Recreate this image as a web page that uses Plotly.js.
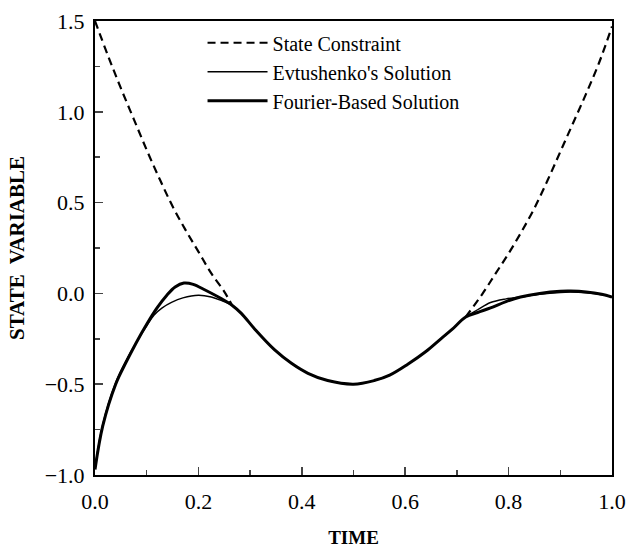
<!DOCTYPE html>
<html>
<head>
<meta charset="utf-8">
<script src="https://cdn.plot.ly/plotly-3.0.1.min.js"></script>
<style>html,body{margin:0;padding:0;background:#fff;}#chart{width:627px;height:548px;}</style>
</head>
<body>
<div id="chart"></div>
<script>
// State constraint (dashed), two branches
var timeConstraintLeft = [0, 0.025, 0.05, 0.075, 0.1, 0.125, 0.15, 0.175, 0.2, 0.225, 0.25, 0.265];
var valConstraintLeft  = [1.50, 1.31, 1.13, 0.96, 0.79, 0.63, 0.48, 0.35, 0.23, 0.11, 0.01, -0.065];
var timeConstraintRight = [0.717, 0.75, 0.775, 0.8, 0.825, 0.85, 0.875, 0.9, 0.925, 0.95, 0.975, 1.0];
var valConstraintRight  = [-0.13, 0.0, 0.11, 0.22, 0.34, 0.47, 0.62, 0.78, 0.94, 1.10, 1.27, 1.47];

// Evtushenko's solution (thin)
var timeEvt = [0, 0.015, 0.04, 0.06, 0.08, 0.1, 0.114, 0.13, 0.148, 0.17, 0.2, 0.225, 0.245, 0.265, 0.283, 0.31, 0.347, 0.38, 0.412, 0.45, 0.5, 0.54, 0.57, 0.605, 0.64, 0.669, 0.69, 0.717, 0.74, 0.765, 0.795, 0.823, 0.86, 0.9, 0.92, 0.95, 0.98, 1.0];
var valEvt  = [-0.96, -0.72, -0.49, -0.37, -0.27, -0.18, -0.12, -0.08, -0.05, -0.025, -0.01, -0.02, -0.04, -0.065, -0.11, -0.2, -0.31, -0.385, -0.44, -0.48, -0.5, -0.48, -0.45, -0.39, -0.32, -0.25, -0.2, -0.13, -0.09, -0.05, -0.03, -0.02, -0.005, 0.005, 0.007, 0.003, -0.008, -0.02];

// Fourier-based solution (thick)
var timeFourier = [0, 0.015, 0.04, 0.06, 0.08, 0.1, 0.12, 0.139, 0.155, 0.172, 0.19, 0.212, 0.245, 0.265, 0.283, 0.31, 0.347, 0.38, 0.412, 0.45, 0.5, 0.54, 0.57, 0.605, 0.64, 0.669, 0.69, 0.717, 0.74, 0.765, 0.795, 0.823, 0.86, 0.9, 0.92, 0.95, 0.98, 1.0];
var valFourier  = [-0.97, -0.73, -0.5, -0.38, -0.27, -0.17, -0.08, -0.01, 0.035, 0.057, 0.05, 0.02, -0.03, -0.065, -0.11, -0.2, -0.31, -0.385, -0.44, -0.48, -0.5, -0.48, -0.45, -0.39, -0.32, -0.25, -0.2, -0.13, -0.105, -0.08, -0.045, -0.02, 0.0, 0.012, 0.013, 0.008, -0.005, -0.02];

var seriesNames = ["State Constraint", "Evtushenko's Solution", "Fourier-Based Solution"];
var xTickVals = [0, 0.2, 0.4, 0.6, 0.8, 1.0];
var yTickVals = [-1.0, -0.5, 0.0, 0.5, 1.0, 1.5];

var serif = "Liberation Serif, Times New Roman, serif";

var traces = [
  {x: timeConstraintLeft, y: valConstraintLeft, mode: 'lines', name: seriesNames[0], legendgroup: 'c',
   line: {color: '#000', width: 2.2, dash: '8px,5px', shape: 'spline'}},
  {x: timeEvt, y: valEvt, mode: 'lines', name: seriesNames[1],
   line: {color: '#000', width: 1.4, shape: 'spline'}},
  {x: timeFourier, y: valFourier, mode: 'lines', name: seriesNames[2],
   line: {color: '#000', width: 3, shape: 'spline'}},
  {x: timeConstraintRight, y: valConstraintRight, mode: 'lines', name: seriesNames[0], legendgroup: 'c', showlegend: false,
   line: {color: '#000', width: 2.2, dash: '8px,5px', shape: 'spline'}}
];

var layout = {
  width: 627, height: 548,
  margin: {l: 95, r: 15, t: 21, b: 73},
  paper_bgcolor: '#fff', plot_bgcolor: '#fff',
  font: {family: serif, color: '#000', size: 22},
  showlegend: true,
  legend: {x: 0.208, y: 0.995, xanchor: 'left', yanchor: 'top', bgcolor: 'rgba(0,0,0,0)',
           font: {family: serif, size: 20, color: '#000'}, tracegroupgap: 0, itemwidth: 60},
  xaxis: {range: [0, 1], tickvals: xTickVals, tickformat: '.1f', ticks: 'inside', ticklen: 8, tickwidth: 1.5,
          showline: true, linewidth: 2, linecolor: '#000', mirror: true, showgrid: false, zeroline: false,
          tickfont: {family: serif, size: 22}, ticklabelstandoff: 6,
          minor: {dtick: 0.1, ticks: 'inside', ticklen: 5, tickwidth: 1.5, showgrid: false},
          title: {text: '<b>TIME</b>', font: {family: serif, size: 19}, standoff: 20}},
  yaxis: {range: [-1, 1.5], tickvals: yTickVals, tickformat: '.1f', ticks: 'inside', ticklen: 8, tickwidth: 1.5,
          showline: true, linewidth: 2, linecolor: '#000', mirror: true, showgrid: false, zeroline: false,
          tickfont: {family: serif, size: 22}, ticklabelstandoff: 4,
          minor: {dtick: 0.25, ticks: 'inside', ticklen: 5, tickwidth: 1.5, showgrid: false},
          title: {text: '<b>STATE  VARIABLE</b>', font: {family: serif, size: 21}, standoff: 14}}
};

Plotly.newPlot('chart', traces, layout, {displayModeBar: false, staticPlot: true});
</script>
</body>
</html>
